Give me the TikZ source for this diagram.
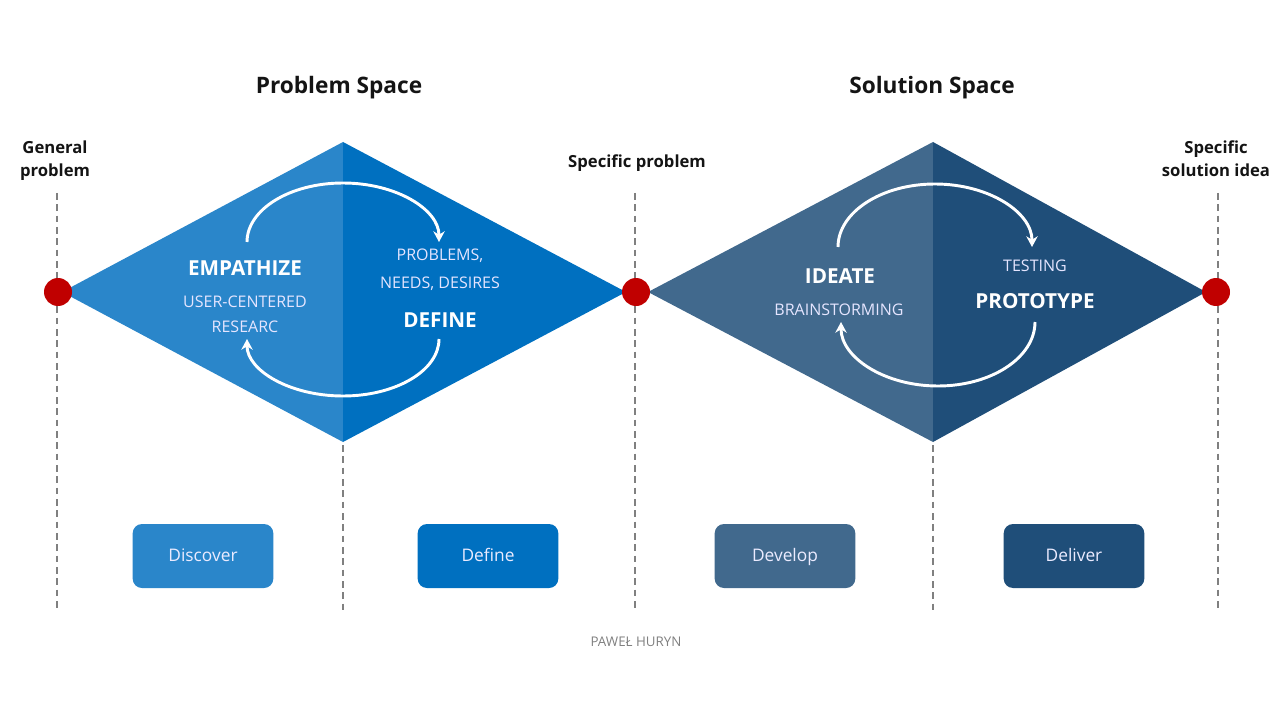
\documentclass[tikz,border=0pt]{standalone}
\usepackage{fontspec}
\setmainfont{Open Sans}
\usepackage{xcolor}
\usetikzlibrary{positioning,arrows.meta}

\definecolor{discoverblue}{RGB}{42,134,202}
\definecolor{defineblue}{RGB}{0,112,192}
\definecolor{developblue}{RGB}{65,105,141}
\definecolor{deliverblue}{RGB}{31,78,121}
\definecolor{dotred}{RGB}{192,0,0}
\definecolor{guidegray}{RGB}{128,128,128}
\definecolor{labelblack}{RGB}{20,20,20}

\begin{document}
\begin{tikzpicture}[x=0.75pt,y=0.75pt,yscale=-1,
  guide/.style={draw=guidegray,line width=1.1pt,dash pattern={on 5pt off 3.5pt}},
  milestone/.style={circle,fill=dotred,inner sep=0pt,minimum size=21pt},
  phasebox/.style={rounded corners=7pt,minimum width=105.5pt,minimum height=48pt,
    text height=0.85em,text depth=0.1em,
    text=white!92!blue,font=\fontsize{13}{15}\selectfont},
  cyclearrow/.style={draw=white,line width=2.2pt,-{Stealth[length=8pt,width=8.5pt,inset=2.5pt]}},
  stagetitle/.style={text=white,font=\fontsize{15.5}{18}\bfseries\selectfont},
  stagenote/.style={text=white!90!blue,font=\fontsize{12}{14}\selectfont,align=center},
  headline/.style={text=labelblack,font=\fontsize{17}{20}\bfseries\selectfont},
  pointlabel/.style={text=labelblack,font=\fontsize{12.5}{17}\bfseries\selectfont,align=center}]
  \useasboundingbox (0,0) rectangle (1280,720);

  %Straight Lines: guides
  \coordinate (gen-top) at (57,193);   \coordinate (gen-bot) at (57,610);
  \coordinate (ps-mid-top) at (343,445); \coordinate (ps-mid-bot) at (343,610);
  \coordinate (spec-top) at (635,193); \coordinate (spec-bot) at (635,610);
  \coordinate (ss-mid-top) at (933,445); \coordinate (ss-mid-bot) at (933,610);
  \coordinate (sol-top) at (1218,193); \coordinate (sol-bot) at (1218,610);
  \draw [guide] (gen-top) -- (gen-bot);
  \draw [guide] (ps-mid-top) -- (ps-mid-bot);
  \draw [guide] (spec-top) -- (spec-bot);
  \draw [guide] (ss-mid-top) -- (ss-mid-bot);
  \draw [guide] (sol-top) -- (sol-bot);

  %Shape: Diamond (problem space)
  \coordinate (ps-left) at (62,292);  \coordinate (ps-right) at (626,292);
  \coordinate (ps-top) at (343,142);  \coordinate (ps-bottom) at (343,442);
  \fill [discoverblue] (ps-left) -- (ps-top) -- (ps-bottom) -- cycle;
  \fill [defineblue] (ps-top) -- (ps-right) -- (ps-bottom) -- cycle;

  %Shape: Diamond (solution space)
  \coordinate (ss-left) at (648,292); \coordinate (ss-right) at (1206,292);
  \coordinate (ss-top) at (933,142);  \coordinate (ss-bottom) at (933,442);
  \fill [developblue] (ss-left) -- (ss-top) -- (ss-bottom) -- cycle;
  \fill [deliverblue] (ss-top) -- (ss-right) -- (ss-bottom) -- cycle;

  %Curve Lines: cycles
  \draw [cyclearrow] (247,242) arc [start angle=180, end angle=360, x radius=96, y radius=59];
  \draw [cyclearrow] (439,339) arc [start angle=0, end angle=180, x radius=96, y radius=57];
  \draw [cyclearrow] (838,247) arc [start angle=180, end angle=360, x radius=97, y radius=63];
  \draw [cyclearrow] (1035,322) arc [start angle=0, end angle=180, x radius=97, y radius=64];

  %Shape: Circle milestones
  \node [milestone] (general) at (58,292) {};
  \node [milestone] (specific) at (636,292) {};
  \node [milestone] (solution) at (1216,292) {};

  % Text Node
  \node [headline] (problem-space) at (339,88) {Problem Space};
  \node [headline] (solution-space) at (932,88) {Solution Space};
  \node [pointlabel] (general-label) at (55,161) {General\\problem};
  \node [pointlabel] (specific-label) at (637,163) {Specific problem};
  \node [pointlabel] (solution-label) at (1216,159) {Specific\\solution idea};

  % Text Node: stages
  \node [stagetitle] (empathize) at (245,268) {EMPATHIZE};
  \node [stagenote] (research) at (245,314) {USER-CENTERED\\[5pt]RESEARC};
  \node [stagenote] (needs) at (440,270) {PROBLEMS,\\[7pt]NEEDS, DESIRES};
  \node [stagetitle] (define) at (440,320) {DEFINE};
  \node [stagetitle] (ideate) at (840,276) {IDEATE};
  \node [stagenote] (brainstorm) at (839,310) {BRAINSTORMING};
  \node [stagenote] (testing) at (1035,266) {TESTING};
  \node [stagetitle] (prototype) at (1035,301) {PROTOTYPE};

  %Shape: Rounded boxes
  \node [phasebox,fill=discoverblue] (discover-box) at (203,556) {Discover};
  \node [phasebox,fill=defineblue] (define-box) at (488,556) {Define};
  \node [phasebox,fill=developblue] (develop-box) at (785,556) {Develop};
  \node [phasebox,fill=deliverblue] (deliver-box) at (1074,556) {Deliver};

  % Text Node
  \node [text=guidegray,font=\fontsize{10}{12}\selectfont] (author) at (636,642) {PAWEŁ HURYN};

\end{tikzpicture}
\end{document}
